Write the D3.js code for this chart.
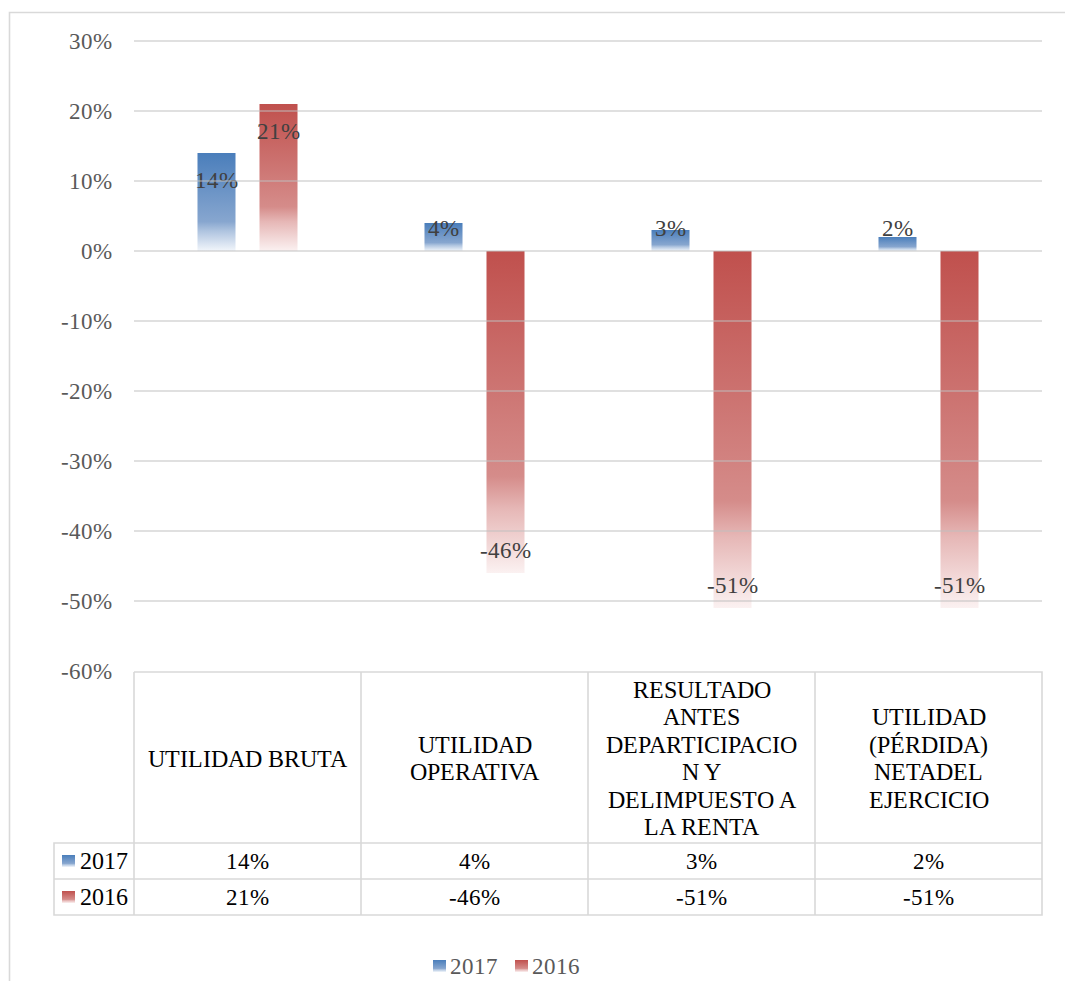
<html>
<head>
<meta charset="utf-8">
<script src="https://d3js.org/d3.v7.min.js"></script>
<style>
  @font-face { font-family: "ChartSerif"; src: local("Liberation Serif"), local("LiberationSerif"), local("LiberationSerif-Regular"), local("Times New Roman"); }
  body { margin: 0; background: #fff; }
  svg, svg text { font-family: "ChartSerif", "Liberation Serif", serif; }
</style>
</head>
<body>
<svg width="1065" height="981"></svg>
<script>
// chart values
var categories = ["UTILIDAD BRUTA", "UTILIDAD\nOPERATIVA",
  "RESULTADO\nANTES\nDEPARTICIPACIO\nN Y\nDELIMPUESTO A\nLA RENTA",
  "UTILIDAD\n(PÉRDIDA)\nNETADEL\nEJERCICIO"];
var series = ["2017", "2016"];
var values2017 = [0.14, 0.04, 0.03, 0.02];
var values2016 = [0.21, -0.46, -0.51, -0.51];
var yTicks = [0.3, 0.2, 0.1, 0, -0.1, -0.2, -0.3, -0.4, -0.5, -0.6];
var colors = {"2017": ["#4a7ebb", "#87a6cf", "#b0c5e0", "#f2f6fb"],
              "2016": ["#c0504d", "#d58c8a", "#e6b7b6", "#fbf1f1"]};

var rows = categories.map(function(c, i) {
  return {cat: c, "2017": values2017[i], "2016": values2016[i]};
});

var svg = d3.select("svg");
var plotLeft = 134, plotRight = 1042, plotTop = 41, plotBottom = 671;

function txt(sel, size, color) {
  return sel.style("font-family", "ChartSerif, 'Liberation Serif'")
    .style("font-size", size + "px").style("fill", color);
}
function rule(sel) {
  return sel.attr("stroke", "#d9d9d9").attr("stroke-width", 1.6).attr("fill", "none");
}

// outer chart border
rule(svg.append("path")).attr("d", "M9.5,990 V12.5 H1070");

var y = d3.scaleLinear().domain([0.3, -0.6]).range([plotTop, plotBottom]);
var x0 = d3.scaleBand().domain(categories).range([plotLeft, plotRight]);
var x1 = d3.scaleBand().domain(series).range([0, x0.bandwidth()])
  .paddingInner(0.387).paddingOuter(1.024);

var fmt = d3.formatLocale({decimal: ".", thousands: ",", grouping: [3],
  currency: ["", ""], minus: "-", percent: "%"}).format(".0%");

var defs = svg.append("defs");
series.forEach(function(s) {
  var g = defs.append("linearGradient").attr("id", "grad" + s)
    .attr("x1", 0).attr("y1", 0).attr("x2", 0).attr("y2", 1);
  [0, 0.7, 0.8, 1].forEach(function(o, i) {
    g.append("stop").attr("offset", o).attr("stop-color", colors[s][i]);
  });
});

// bars
var groups = svg.append("g").selectAll("g").data(rows).enter().append("g")
  .attr("transform", function(d) { return "translate(" + x0(d.cat) + ",0)"; });

groups.selectAll("rect")
  .data(function(d) { return series.map(function(s) { return {s: s, v: d[s]}; }); })
  .enter().append("rect")
  .attr("x", function(d) { return x1(d.s); })
  .attr("y", function(d) { return y(Math.max(0, d.v)); })
  .attr("width", x1.bandwidth())
  .attr("height", function(d) { return Math.abs(y(d.v) - y(0)); })
  .attr("fill", function(d) { return "url(#grad" + d.s + ")"; });

// gridlines (drawn above bars like the original)
svg.append("g").selectAll("line")
  .data(yTicks.slice(0, -1)).enter().append("line")
  .attr("x1", plotLeft).attr("x2", plotRight)
  .attr("y1", function(d) { return y(d); })
  .attr("y2", function(d) { return y(d); })
  .attr("stroke", "#bfbfbf").attr("stroke-opacity", 0.65).attr("stroke-width", 1.3);

// tick labels
txt(svg.append("g").selectAll("text").data(yTicks).enter().append("text"), 23, "#595959")
  .attr("x", 112).attr("y", function(d) { return y(d) + 8; })
  .attr("text-anchor", "end")
  .text(function(d) { return fmt(d); });

// data labels
txt(groups.selectAll("text.bar-label")
  .data(function(d) { return series.map(function(s) { return {s: s, v: d[s]}; }); })
  .enter().append("text"), 23, "#404040")
  .attr("class", "bar-label")
  .attr("x", function(d) { return x1(d.s) + x1.bandwidth() / 2; })
  .attr("y", function(d) {
    return 8 + (d.v >= 0 ? Math.min(y(d.v) + 27, y(0) - 23) : y(d.v) - 23);
  })
  .attr("text-anchor", "middle")
  .text(function(d) { return fmt(d.v); });

// data table
var tTop = 672, hBottom = 843, rowH = 36, labelLeft = 54;
var tbl = svg.append("g");
rule(tbl.append("path"))
  .attr("d", "M" + plotLeft + "," + tTop + "H" + plotRight + "V" + (hBottom + 2 * rowH)
    + "H" + labelLeft + "V" + hBottom + "H" + plotRight
    + "M" + labelLeft + "," + (hBottom + rowH) + "H" + plotRight);
categories.forEach(function(c) {
  rule(tbl.append("line"))
    .attr("x1", x0(c)).attr("x2", x0(c))
    .attr("y1", tTop).attr("y2", hBottom + 2 * rowH);
});

categories.forEach(function(c) {
  var lines = c.split("\n");
  var cy = (tTop + hBottom) / 2 + 1;
  lines.forEach(function(l, i) {
    txt(tbl.append("text"), 24, "#000")
      .attr("text-anchor", "middle")
      .attr("x", x0(c) + x0.bandwidth() / 2)
      .attr("y", cy + 8 + (i - (lines.length - 1) / 2) * 27.4)
      .text(l);
  });
});

series.forEach(function(s, r) {
  var cy = hBottom + rowH * r + rowH / 2;
  tbl.append("rect").attr("x", 62).attr("y", cy - 6).attr("width", 13).attr("height", 12)
    .attr("fill", "url(#grad" + s + ")");
  txt(tbl.append("text"), 24, "#000").attr("x", 80).attr("y", cy + 8).text(s);
  rows.forEach(function(d) {
    txt(tbl.append("text"), 23, "#000")
      .attr("x", x0(d.cat) + x0.bandwidth() / 2).attr("y", cy + 8)
      .attr("text-anchor", "middle").text(fmt(d[s]));
  });
});

// legend
var legend = svg.append("g");
var lx = 433;
series.forEach(function(s, i) {
  var gx = lx + i * 82;
  legend.append("rect").attr("x", gx).attr("y", 960).attr("width", 13).attr("height", 12)
    .attr("fill", "url(#grad" + s + ")");
  txt(legend.append("text"), 23, "#595959").attr("x", gx + 17).attr("y", 974).text(s);
});
</script>
</body>
</html>
